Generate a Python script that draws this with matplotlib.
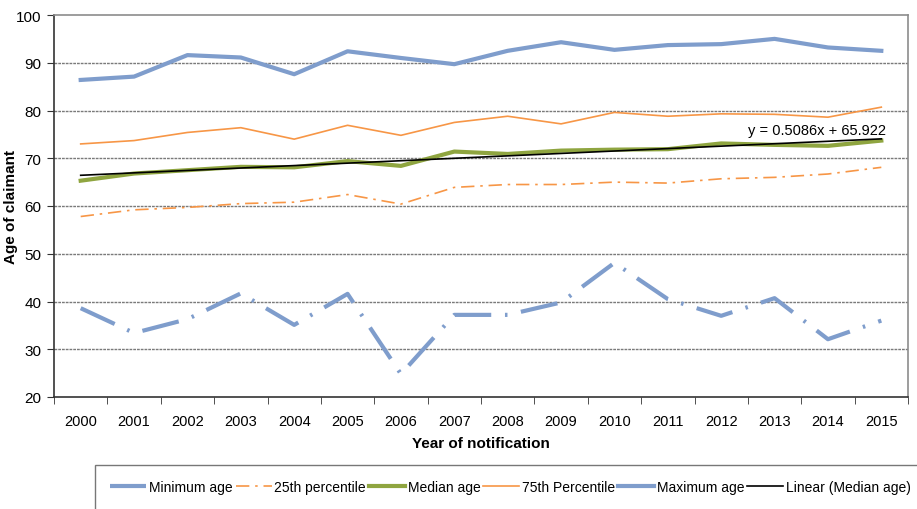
import matplotlib
matplotlib.use("Agg")
import matplotlib.pyplot as plt
import numpy as np

plt.rcParams['font.family'] = ['Liberation Sans', 'DejaVu Sans']

years = [str(y) for y in range(2000, 2016)]
min_age = [38.6, 33.4, 36.3, 41.7, 35.1, 41.6, 24.8, 37.2, 37.2, 39.8, 48.1, 40.5, 37.0, 40.7, 32.1, 36.0]
p25 = [57.8, 59.2, 59.7, 60.5, 60.8, 62.4, 60.4, 63.9, 64.5, 64.5, 65.0, 64.8, 65.7, 66.0, 66.7, 68.1]
median = [65.3, 66.8, 67.5, 68.2, 68.1, 69.4, 68.4, 71.4, 70.9, 71.6, 71.8, 71.9, 73.1, 72.8, 72.6, 73.7]
p75 = [73.0, 73.7, 75.4, 76.4, 74.0, 76.9, 74.8, 77.5, 78.8, 77.2, 79.6, 78.8, 79.3, 79.2, 78.6, 80.7]
max_age = [86.4, 87.1, 91.6, 91.1, 87.6, 92.4, 91.0, 89.7, 92.5, 94.3, 92.7, 93.7, 93.9, 95.0, 93.2, 92.5]
trend_slope = 0.5086
trend_intercept = 65.922
y_ticks = [20, 30, 40, 50, 60, 70, 80, 90, 100]

fig = plt.figure(figsize=(9.17, 5.10), dpi=100)
ax = fig.add_axes([54/917, 1-398/510, (908-54)/917, (398-16)/510])

x = np.arange(len(years))
blue = '#7F9DCC'
orange = '#F79646'
green = '#8FA540'

l_min, = ax.plot(x, min_age, color=blue, lw=3, linestyle=(0, (9, 3.3, 0.6, 3.3)), label='Minimum age')
l_25, = ax.plot(x, p25, color=orange, lw=1.2, linestyle=(0, (8, 3.5, 1.5, 3.5)), label='25th percentile')
l_med, = ax.plot(x, median, color=green, lw=3, label='Median age', solid_joinstyle='round')
l_75, = ax.plot(x, p75, color=orange, lw=1.2, label='75th Percentile')
l_max, = ax.plot(x, max_age, color=blue, lw=3, label='Maximum age', solid_joinstyle='round')
xs = np.arange(1, len(years) + 1)
l_tr, = ax.plot(x, trend_slope * xs + trend_intercept, color='black', lw=1.2, label='Linear (Median age)')

ax.text(0.894, 0.70, 'y = 0.5086x + 65.922', transform=ax.transAxes, ha='center', va='center', fontsize=10.5)

ax.set_xlim(-0.5, len(years) - 0.5)
ax.set_ylim(20, 100)
ax.set_yticks(y_ticks)
ax.set_yticklabels([str(v) for v in y_ticks], fontsize=11)
ax.set_xticks(x)
ax.set_xticklabels(years, fontsize=10.5)
ax.set_xticks(np.arange(-0.5, len(years)), minor=True)
ax.tick_params(axis='x', which='major', length=0, pad=12)
ax.tick_params(axis='x', which='minor', length=5, direction='out', color='#333333')
ax.tick_params(axis='y', length=5, direction='out', color='#333333', pad=4)

for v in y_ticks[1:-1]:
    ax.axhline(v, color='#7a7a7a', lw=1.0, linestyle=(0, (2, 0.7)), zorder=0)
ax.spines['left'].set_color('#333333')
ax.spines['bottom'].set_color('#333333')
ax.spines['left'].set_linewidth(1.2)
ax.spines['bottom'].set_linewidth(1.2)
ax.spines['top'].set_color('#8c8c8c')
ax.spines['right'].set_color('#8c8c8c')
ax.spines['top'].set_linewidth(1.2)
ax.spines['right'].set_linewidth(1.2)

ax.set_ylabel('Age of claimant', fontsize=11, fontweight='bold')
ax.yaxis.set_label_coords((18 - 54) / 854, 0.5)
ax.set_xlabel('Year of notification', fontsize=11, fontweight='bold', labelpad=6)

leg = fig.legend(handles=[l_min, l_25, l_med, l_75, l_max, l_tr], loc='upper left',
                 bbox_to_anchor=(95 / 917, 1 - 466 / 510), ncol=6, fontsize=10,
                 frameon=True, fancybox=False, edgecolor='#555555', handlelength=2.6,
                 columnspacing=0.2, handletextpad=0.2, borderpad=1.1, borderaxespad=0)
leg.get_frame().set_linewidth(1.0)

fig.savefig('out.png', dpi=100)
